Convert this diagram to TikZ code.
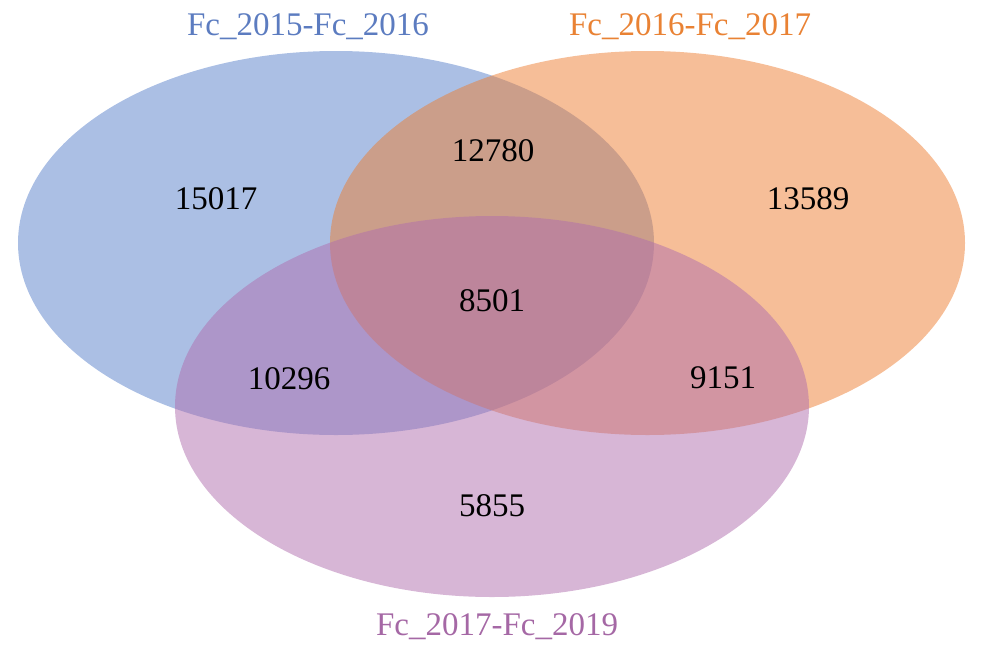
\documentclass[tikz,border=0pt]{standalone}
\usepackage{fontspec}
\setmainfont{Liberation Serif}
\usepackage{xcolor}
\usepackage{tikz}
\definecolor{setblue}{RGB}{68,114,196}
\definecolor{setorange}{RGB}{237,125,49}
\definecolor{setpurple}{RGB}{175,109,173}
\definecolor{labelblue}{RGB}{92,124,192}
\definecolor{labelorange}{RGB}{233,130,52}
\definecolor{labelpurple}{RGB}{165,104,165}
\tikzset{
  setfill/.style={fill=#1,fill opacity=.5,draw=none},
  count/.style={font=\fontsize{33}{40}\selectfont,text=black,inner sep=0pt},
  setname/.style={font=\fontsize{33}{40}\selectfont,text=#1,inner sep=0pt}
}
\begin{document}
\begin{tikzpicture}[x=1pt,y=-1pt]
  \useasboundingbox (0,0) rectangle (995,656);
  \fill[setfill=setblue,fill opacity=.45] (336,243) ellipse [x radius=318pt,y radius=192pt];
  \fill[setfill=setorange] (647.5,243) ellipse [x radius=317.5pt,y radius=192pt];
  \fill[setfill=setpurple] (492,406.5) ellipse [x radius=317pt,y radius=190.5pt];
  % region counts
  \node[count] (onlyA) at (216,199) {15017};
  \node[count] (AB) at (493,151) {12780};
  \node[count] (onlyB) at (808,199) {13589};
  \node[count] (ABC) at (492,301) {8501};
  \node[count] (AC) at (289,379) {10296};
  \node[count] (BC) at (723,378) {9151};
  \node[count] (onlyC) at (492,506) {5855};
  % set names
  \node[setname=labelblue] (nameA) at (308,27) {Fc\_2015-Fc\_2016};
  \node[setname=labelorange] (nameB) at (690,27) {Fc\_2016-Fc\_2017};
  \node[setname=labelpurple] (nameC) at (497,627) {Fc\_2017-Fc\_2019};
\end{tikzpicture}
\end{document}
